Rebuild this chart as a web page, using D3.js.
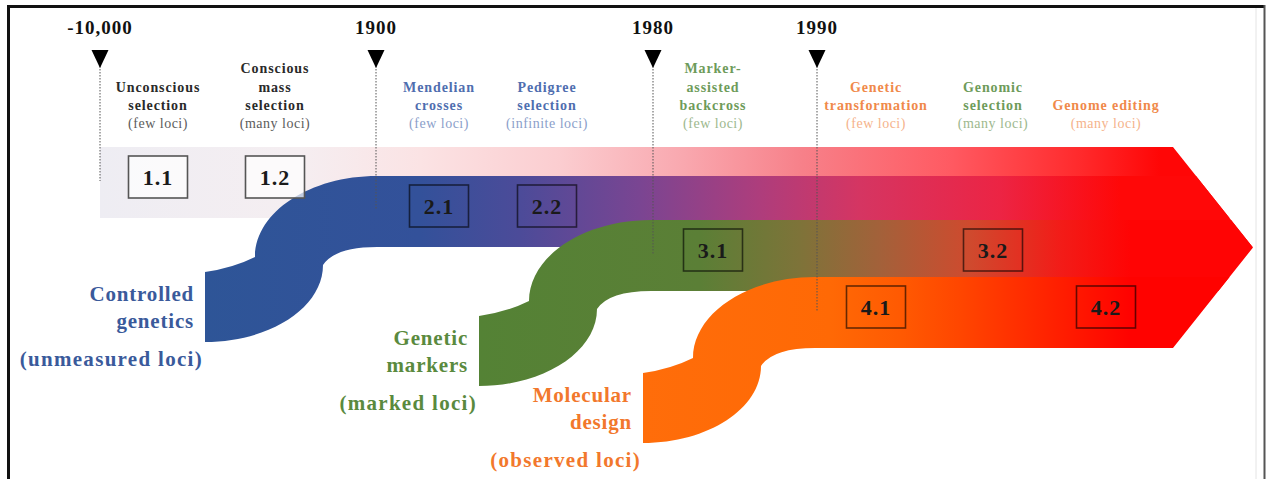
<!DOCTYPE html>
<html>
<head>
<meta charset="utf-8">
<script src="https://d3js.org/d3.v7.min.js"></script>
<style>
  body { margin: 0; background: #fff; }
  text { font-family: "Liberation Serif", "Times New Roman", serif; }
</style>
</head>
<body>
<div id="chart"></div>
<script>

var width = 1266;
var height = 479;

//-------------------------------------------- DATA

var eras = ["-10,000", "1900", "1980", "1990"];
var eraTier = [0, 1, 2, 3];

var tiers = [0, 1, 2, 3];

var paradigms = ["Controlled genetics", "Genetic markers", "Molecular design"];
var paradigmLines = [["Controlled", "genetics"], ["Genetic", "markers"], ["Molecular", "design"]];
var paradigmLoci = ["(unmeasured loci)", "(marked loci)", "(observed loci)"];
var paradigmTier = [1, 2, 3];

var methods = ["Unconscious selection", "Conscious mass selection", "Mendelian crosses",
    "Pedigree selection", "Marker-assisted backcross", "Genetic transformation",
    "Genomic selection", "Genome editing"];
var methodLines = [["Unconscious", "selection"], ["Conscious", "mass", "selection"],
    ["Mendelian", "crosses"], ["Pedigree", "selection"], ["Marker-", "assisted", "backcross"],
    ["Genetic", "transformation"], ["Genomic", "selection"], ["Genome editing"]];
var methodLoci = ["(few loci)", "(many loci)", "(few loci)", "(infinite loci)", "(few loci)",
    "(few loci)", "(many loci)", "(many loci)"];
var methodBox = ["1.1", "1.2", "2.1", "2.2", "3.1", "4.1", "3.2", "4.2"];

//-------------------------------------------- SCALES

var eraX = d3.scaleOrdinal().domain(eras).range([100, 376, 653, 817]);
var colX = d3.scaleOrdinal().domain(methods).range([158, 275, 439, 547, 713, 876, 993, 1106]);
var paradigmX = d3.scaleOrdinal().domain(paradigms).range([205, 479, 643]);
var tierY = d3.scaleOrdinal().domain(tiers).range([147, 176, 220, 277]);

var nameColor = d3.scaleOrdinal().domain(tiers).range(["#2a2a2a", "#4f6eaf", "#6e9b5a", "#f0894a"]);
var lociColor = d3.scaleOrdinal().domain(tiers).range(["#5c5c5c", "#8ba0ca", "#9db88e", "#f5b38c"]);
var bigColor = d3.scaleOrdinal().domain([1, 2, 3]).range(["#3a5a9b", "#5a8a3e", "#f2782c"]);

var BAND = 71;      // thickness of a band
var RISE = 96;      // vertical rise of the S bend
var bandStart = 100;
var shoulder = 1173;
var tip = 1253;

//-------------------------------------------- CONTAINERS

var svg = d3.select("#chart")
    .append("svg")
    .attr("width", width)
    .attr("height", height);

svg.append("rect").attr("width", width).attr("height", height).attr("fill", "#fff");

var defs = svg.append("defs");

function gradient(id, stops) {
    var g = defs.append("linearGradient")
        .attr("id", id)
        .attr("gradientUnits", "userSpaceOnUse")
        .attr("x1", 0).attr("x2", tip)
        .attr("y1", 0).attr("y2", 0);
    g.selectAll("stop").data(stops).enter().append("stop")
        .attr("offset", function (d) { return d[0] / tip; })
        .attr("stop-color", function (d) { return d[1]; });
}

gradient("g0", [[100, "#eeedf3"], [300, "#f5eef1"], [420, "#fbe3e4"], [560, "#fbcdd0"],
    [680, "#f9a9b0"], [800, "#f7818a"], [950, "#ff5a62"], [1080, "#ff2a2c"], [1160, "#ff0606"]]);
gradient("g1", [[205, "#2e5597"], [420, "#33519a"], [520, "#4c4b99"], [640, "#7a4592"],
    [760, "#ae3d7c"], [860, "#d53562"], [1000, "#ec2444"], [1120, "#ff0808"]]);
gradient("g2", [[479, "#548235"], [700, "#5b7f36"], [800, "#7e7339"], [880, "#a3613a"],
    [970, "#cf4a2e"], [1060, "#f21c18"], [1130, "#ff0404"]]);
gradient("g3", [[643, "#ff6d0a"], [830, "#ff6905"], [900, "#ff5a02"], [960, "#ff4600"],
    [1050, "#ff2200"], [1130, "#ff0200"]]);

defs.append("clipPath").attr("id", "arrowclip")
    .append("path")
    .attr("d", d3.line()([[0, 0], [shoulder, 0], [shoulder, tierY(0)],
        [tip, (tierY(0) + tierY(3) + BAND) / 2], [shoulder, tierY(3) + BAND],
        [shoulder, height], [0, height]]) + "Z");

//-------------------------------------------- BANDS

var bands = svg.append("g").attr("clip-path", "url(#arrowclip)");

bands.append("rect")
    .attr("x", bandStart)
    .attr("y", tierY(0))
    .attr("width", tip + 10 - bandStart)
    .attr("height", BAND)
    .attr("fill", "url(#g0)");

// S-shaped ribbon, left end at x0, flat top at yTop
function ribbon(x0, yTop) {
    var y0 = yTop + RISE;
    var k = 0.5523;
    var p = d3.path();
    p.moveTo(x0, y0);
    p.quadraticCurveTo(x0 + 28, y0 - 4, x0 + 50, y0 - 15);
    p.bezierCurveTo(x0 + 50, y0 - 15 - 81 * k, x0 + 172 - 122 * k, yTop, x0 + 172, yTop);
    p.lineTo(tip + 10, yTop);
    p.lineTo(tip + 10, yTop + BAND);
    p.lineTo(x0 + 172, yTop + BAND);
    p.quadraticCurveTo(x0 + 130, yTop + BAND, x0 + 118, y0 - 7);
    p.bezierCurveTo(x0 + 118, y0 - 7 + 77 * k, x0 + 118 * k, y0 + 70, x0, y0 + 70);
    p.closePath();
    return p.toString();
}

paradigms.forEach(function (d, i) {
    var t = paradigmTier[i];
    bands.append("path")
        .attr("d", ribbon(paradigmX(d), tierY(t)))
        .attr("fill", "url(#g" + t + ")");
});

//-------------------------------------------- ERA MARKERS

var era = svg.append("g");

eras.forEach(function (d, i) {
    var x = eraX(d);
    era.append("line")
        .attr("x1", x).attr("x2", x)
        .attr("y1", 66).attr("y2", tierY(eraTier[i]) + 34)
        .attr("stroke", "#555")
        .attr("stroke-width", 1)
        .style("stroke-dasharray", "1.5,1.5");
    era.append("path")
        .attr("d", d3.line()([[x - 8.5, 50], [x + 8.5, 50], [x, 68]]) + "Z")
        .attr("fill", "#000");
    era.append("text")
        .attr("x", x)
        .attr("y", 34)
        .attr("text-anchor", "middle")
        .attr("font-size", 19)
        .attr("font-weight", "bold")
        .attr("letter-spacing", 1)
        .attr("fill", "#111")
        .text(d);
});

//-------------------------------------------- METHODS + BOXES

var meth = svg.append("g");

methods.forEach(function (d, i) {
    var x = colX(d);
    var t = +methodBox[i][0] - 1;
    var lines = methodLines[i];
    lines.forEach(function (l, j) {
        meth.append("text")
            .attr("x", x)
            .attr("y", 110 - (lines.length - 1 - j) * 18.5)
            .attr("text-anchor", "middle")
            .attr("font-size", 14)
            .attr("font-weight", "bold")
            .attr("letter-spacing", 0.9)
            .attr("fill", nameColor(t))
            .text(l);
    });
    meth.append("text")
        .attr("x", x)
        .attr("y", 128)
        .attr("text-anchor", "middle")
        .attr("font-size", 14)
        .attr("letter-spacing", 0.5)
        .attr("fill", lociColor(t))
        .text(methodLoci[i]);

    meth.append("rect")
        .attr("x", x - 29.5)
        .attr("y", tierY(t) + 9)
        .attr("width", 59)
        .attr("height", 42)
        .attr("fill", t == 0 ? "rgba(255,255,255,0.7)" : "none")
        .attr("stroke", t == 0 ? "#555" : "rgba(0,0,0,0.6)")
        .attr("stroke-width", 1.6);
    meth.append("text")
        .attr("x", x)
        .attr("y", tierY(t) + 37.5)
        .attr("text-anchor", "middle")
        .attr("font-size", 22)
        .attr("font-weight", "bold")
        .attr("letter-spacing", 1)
        .attr("fill", "#1a1a1a")
        .text(methodBox[i]);
});

//-------------------------------------------- PARADIGM LABELS

var lab = svg.append("g");

paradigms.forEach(function (d, i) {
    var t = paradigmTier[i];
    var x0 = paradigmX(d);
    var y0 = tierY(t) + RISE;
    paradigmLines[i].forEach(function (l, j) {
        lab.append("text")
            .attr("x", x0 - 11)
            .attr("y", y0 + 29 + j * 27)
            .attr("text-anchor", "end")
            .attr("font-size", 21)
            .attr("font-weight", "bold")
            .attr("letter-spacing", 0.8)
            .attr("fill", bigColor(t))
            .text(l);
    });
    lab.append("text")
        .attr("x", x0 - 2)
        .attr("y", y0 + 94)
        .attr("text-anchor", "end")
        .attr("font-size", 21)
        .attr("font-weight", "bold")
        .attr("letter-spacing", 1.3)
        .attr("fill", bigColor(t))
        .text(paradigmLoci[i]);
});

//-------------------------------------------- FRAME

svg.append("line").attr("x1", 7).attr("x2", 1265).attr("y1", 6.5).attr("y2", 6.5)
    .attr("stroke", "#111").attr("stroke-width", 3);
svg.append("line").attr("x1", 8.5).attr("x2", 8.5).attr("y1", 5).attr("y2", height)
    .attr("stroke", "#111").attr("stroke-width", 3);
svg.append("line").attr("x1", 1256).attr("x2", 1256).attr("y1", 8).attr("y2", height)
    .attr("stroke", "#e4e4e4").attr("stroke-width", 1);
svg.append("line").attr("x1", 1264.5).attr("x2", 1264.5).attr("y1", 5).attr("y2", height)
    .attr("stroke", "#555").attr("stroke-width", 2);

</script>
</body>
</html>
